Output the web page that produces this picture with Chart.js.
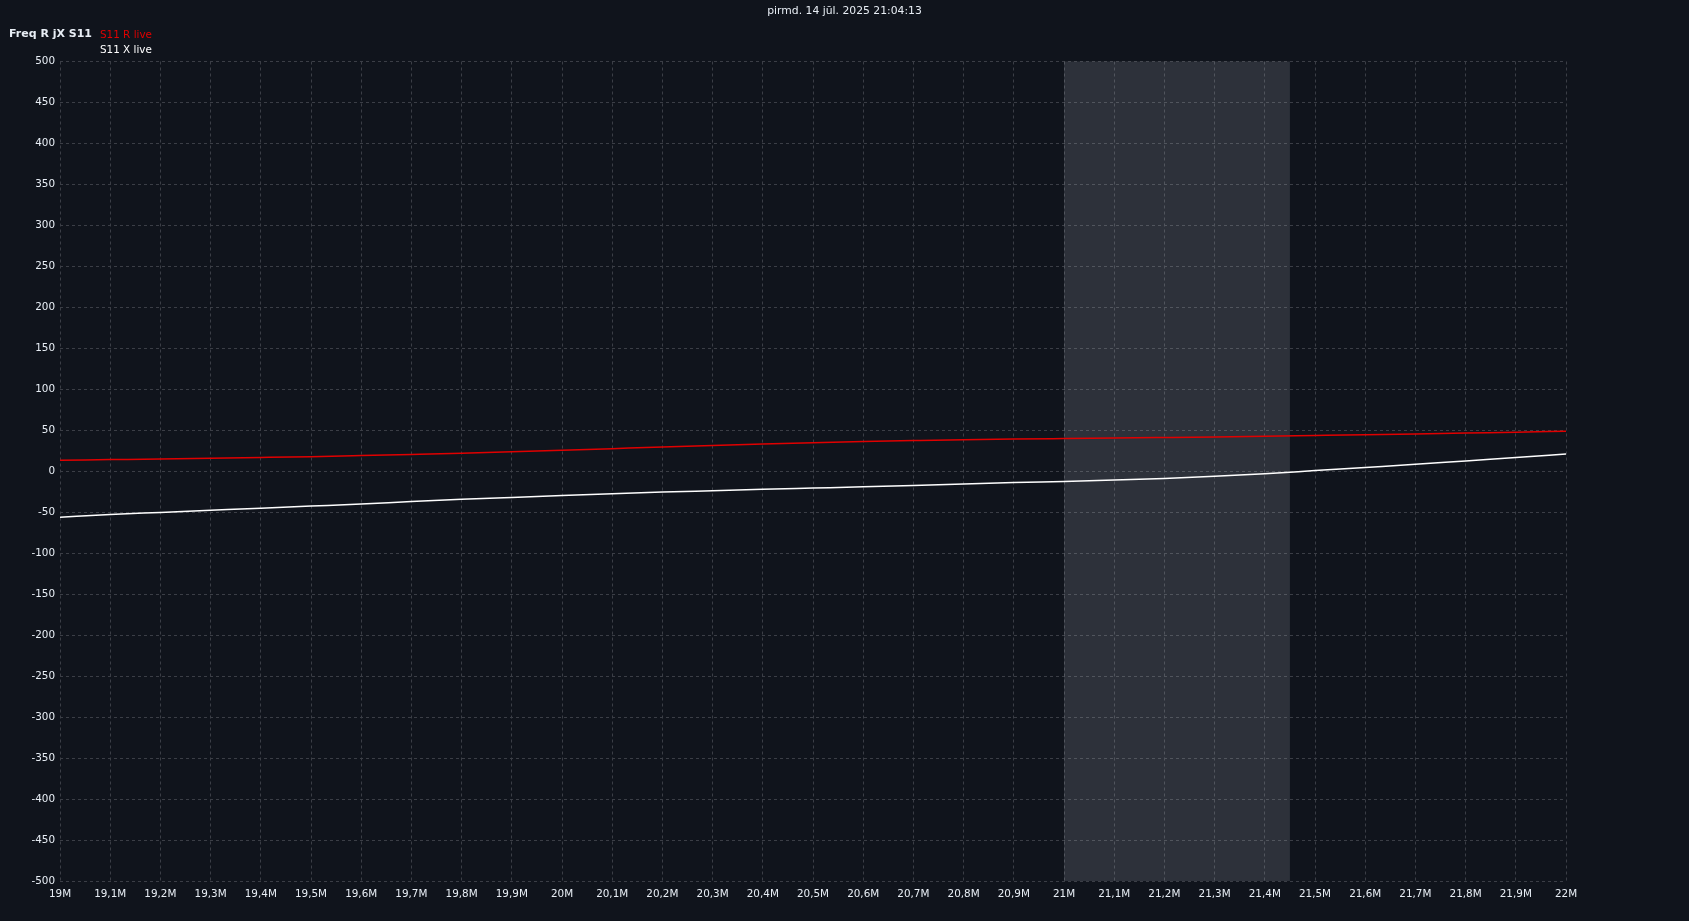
<!DOCTYPE html>
<html>
<head>
<meta charset="utf-8">
<script src="https://cdn.jsdelivr.net/npm/chart.js@4/dist/chart.umd.min.js"></script>
<style>
  html, body { margin:0; padding:0; background:#10141c; width:1689px; height:921px; overflow:hidden; }
  #wrap { position:relative; width:1689px; height:921px; }
  canvas { position:absolute; left:0; top:0; }
  .txt { position:absolute; font-family:"DejaVu Sans", sans-serif; font-size:10.4px; color:#e8eef5; white-space:nowrap; line-height:12px; }
</style>
</head>
<body>
<div id="wrap">
  <canvas id="c" width="1689" height="921"></canvas>
  <div class="txt" id="title" style="left:0; width:1689px; text-align:center; top:5px; font-size:10.8px;">pirmd. 14 jūl. 2025 21:04:13</div>
  <div class="txt" style="left:9px; top:28px; font-weight:bold; font-size:11px;">Freq R jX S11</div>
  <div class="txt" style="left:100px; top:28px; color:#e00000;">S11 R live</div>
  <div class="txt" style="left:100px; top:43px; color:#ffffff;">S11 X live</div>
</div>
<script>
const freqs = [19.0,19.1,19.2,19.3,19.4,19.5,19.6,19.7,19.8,19.9,20.0,20.1,20.2,20.3,20.4,20.5,20.6,20.7,20.8,20.9,21.0,21.1,21.2,21.3,21.4,21.5,21.6,21.7,21.8,21.9,22.0];
const rValues = [13.4,14.2,15.0,15.9,16.8,17.8,19.1,20.5,22.0,23.8,25.6,27.6,29.6,31.4,33.2,34.8,36.2,37.4,38.5,39.3,39.9,40.5,41.2,41.9,42.7,43.6,44.5,45.5,46.6,47.6,48.8];
const xValues = [-56,-52.8,-50.2,-47.6,-45.0,-42.5,-40.0,-37.0,-34.3,-31.9,-29.6,-27.4,-25.4,-23.7,-22.0,-20.5,-19.0,-17.3,-15.5,-13.8,-12.4,-10.8,-8.8,-6.2,-3.0,0.8,4.6,8.4,12.6,16.7,21.1];
const yTicks = [-500,-450,-400,-350,-300,-250,-200,-150,-100,-50,0,50,100,150,200,250,300,350,400,450,500];
const bandStart = 21.0, bandEnd = 21.45;

const rData = freqs.map((f,i)=>({x:f*1e6, y:rValues[i]}));
const xData = freqs.map((f,i)=>({x:f*1e6, y:xValues[i]}));

const bandPlugin = {
  id:'band',
  beforeDatasetsDraw(chart){
    const {ctx, chartArea, scales} = chart;
    const x0 = scales.x.getPixelForValue(bandStart*1e6);
    const x1 = scales.x.getPixelForValue(bandEnd*1e6);
    ctx.save();
    ctx.fillStyle = 'rgba(200,205,220,0.16)';
    ctx.fillRect(x0, chartArea.top, x1-x0, chartArea.bottom-chartArea.top);
    ctx.restore();
  }
};
const bgPlugin = {
  id:'bg',
  beforeDraw(chart){
    const ctx = chart.ctx;
    ctx.save(); ctx.fillStyle='#10141c'; ctx.fillRect(0,0,chart.width,chart.height); ctx.restore();
  }
};

new Chart(document.getElementById('c'), {
  type:'line',
  data:{ datasets:[
    {label:'S11 X live', data:xData, borderColor:'#ffffff', borderWidth:1.5, pointRadius:0, tension:0.3, cubicInterpolationMode:'monotone'},
    {label:'S11 R live', data:rData, borderColor:'#e00000', borderWidth:1.5, pointRadius:0, tension:0.3, cubicInterpolationMode:'monotone'}
  ]},
  options:{
    responsive:false, animation:false, maintainAspectRatio:false,
    layout:{ padding:{ left:0, top:61.5, right:123, bottom:0 } },
    plugins:{ legend:{display:false}, tooltip:{enabled:false}, title:{display:false} },
    scales:{
      x:{
        type:'linear', min:19e6, max:22e6,
        afterFit(s){ s.height = 40; },
        afterBuildTicks(s){ s.ticks = freqs.map(f=>({value:Math.round(f*1e6)})); },
        ticks:{ color:'#e8eef5', font:{family:'DejaVu Sans', size:10.4}, padding:7, maxRotation:0, autoSkip:false,
          callback(v){ const m = v/1e6; return (Math.round(m*10)/10).toString().replace('.',',')+'M'; } },
        grid:{ color:'#3b3e46', drawTicks:false, tickLength:0 },
        border:{ display:false, dash:[3,3] }
      },
      y:{
        min:-500, max:500,
        afterFit(s){ s.width = 60; },
        afterBuildTicks(s){ s.ticks = yTicks.map(v=>({value:v})); },
        ticks:{ color:'#e8eef5', font:{family:'DejaVu Sans', size:10.4}, padding:5, autoSkip:false },
        grid:{ color:'#3b3e46', drawTicks:false, tickLength:0 },
        border:{ display:false, dash:[3,3] }
      }
    }
  },
  plugins:[bgPlugin, bandPlugin]
});
</script>
</body>
</html>
